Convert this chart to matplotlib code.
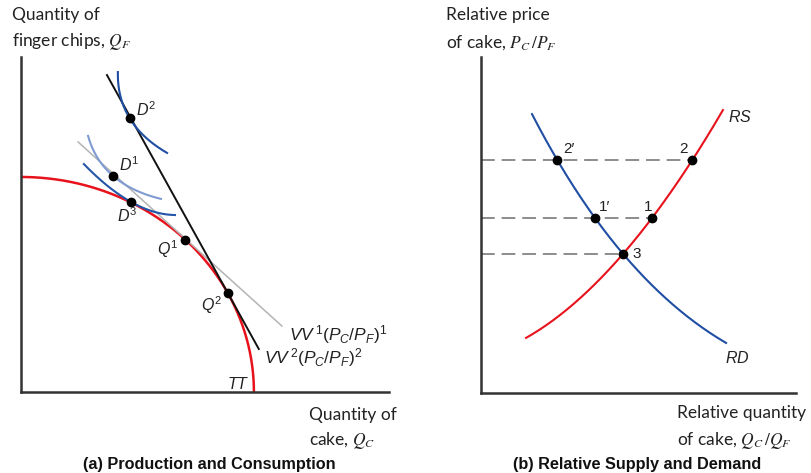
import numpy as np
import matplotlib.pyplot as plt

# fonts: plain labels in Lato, diagram letters in an Arial-like italic
plt.rcParams['mathtext.fontset'] = 'custom'
plt.rcParams['mathtext.it'] = 'Liberation Sans:italic'
plt.rcParams['mathtext.rm'] = 'Liberation Sans'

W, H = 812, 473

# ---- panel (a): transformation curve TT, isovalue lines, indifference curves
tt_radius = 10.0
q_angles = [45.1, 27.5]                        # Q1, Q2 on TT (degrees)
vv1_ends = np.array([[2.45, 11.63], [11.20, 3.07]])
vv2_ends = np.array([[3.69, 14.74], [10.21, 2.00]])
d_points = np.array([[3.95, 10.05], [4.66, 12.74], [4.72, 8.84]])   # D1, D2, D3
ic_starts = np.array([[2.88, 11.91], [4.16, 14.88], [2.70, 10.60]])
ic_ends = np.array([[6.01, 8.98], [6.27, 11.12], [6.61, 8.23]])
ic_colors = ['#7f9bd2', '#1f4ea3', '#2456a8']

# ---- panel (b): relative supply and demand
price_levels = [6.93, 5.21, 4.14]              # points 2, 1, 3
equilibrium = np.array([4.51, 4.14])
rd_ends = np.array([[1.62, 8.30], [7.78, 1.49]])
rs_ends = np.array([[1.43, 1.64], [7.68, 8.42]])

RED = '#e8121c'
BLUE = '#1f4ea3'


def bezier(p0, mid, p1, n=200):
    # quadratic bezier that passes through mid at t = 0.5
    c = 2 * mid - (p0 + p1) / 2
    t = np.linspace(0, 1, n)[:, None]
    return (1 - t) ** 2 * p0 + 2 * t * (1 - t) * c + t ** 2 * p1


def px(x, y):
    return x / W, 1 - y / H


def setup(ax):
    for s in ['top', 'right']:
        ax.spines[s].set_visible(False)
    for s in ['left', 'bottom']:
        ax.spines[s].set_linewidth(1.8)
        ax.spines[s].set_color('#333333')
    ax.set_xticks([])
    ax.set_yticks([])
    ax.patch.set_alpha(0)


fig = plt.figure(figsize=(W / 100, H / 100), dpi=100)

# panel (a)
axa = fig.add_axes([21 / W, 1 - 392 / H, (389 - 21) / W, (392 - 57) / H])
setup(axa)
axa.set_xlim(0, 15.8)
axa.set_ylim(0, 15.58)

theta = np.linspace(0, np.pi / 2, 200)
axa.plot(tt_radius * np.cos(theta), tt_radius * np.sin(theta), color=RED, lw=1.8,
         solid_capstyle='butt')
axa.plot(vv1_ends[:, 0], vv1_ends[:, 1], color='#b4b4b4', lw=1.1)
axa.plot(vv2_ends[:, 0], vv2_ends[:, 1], color='#111111', lw=1.4)

for p0, mid, p1, col in zip(ic_starts, d_points, ic_ends, ic_colors):
    curve = bezier(p0, mid, p1)
    axa.plot(curve[:, 0], curve[:, 1], color=col, lw=1.5)

q_pts = np.array([[tt_radius * np.cos(np.radians(a)), tt_radius * np.sin(np.radians(a))]
                  for a in q_angles])
axa.plot(q_pts[:, 0], q_pts[:, 1], 'o', color='black', ms=6)
axa.plot(d_points[:, 0], d_points[:, 1], 'o', color='black', ms=6)

lab = dict(fontsize=11.5, color='#222222', va='center', textcoords='offset points')
axa.annotate(r'$D^1$', d_points[0], xytext=(4, 8), **lab)
axa.annotate(r'$D^2$', d_points[1], xytext=(5, 6), **lab)
axa.annotate(r'$D^3$', d_points[2], xytext=(-10, -10), **lab)
axa.annotate(r'$Q^1$', q_pts[0], xytext=(-5, -7), ha='right', **lab)
axa.annotate(r'$Q^2$', q_pts[1], xytext=(-4, -9), ha='right', **lab)
axa.annotate(r'$TT$', (tt_radius, 0), xytext=(-11, 6), ha='center', **lab)
axa.annotate(r'$VV^{\,1}(P_C/P_F)^1$', vv1_ends[1], xytext=(5, -6), fontsize=12.5,
             textcoords='offset points', va='center', color='#222222')
axa.annotate(r'$VV^{\,2}(P_C/P_F)^2$', vv2_ends[1], xytext=(4, -6), fontsize=12.5,
             textcoords='offset points', va='center', color='#222222')

# panel (b)
axb = fig.add_axes([481 / W, 1 - 393 / H, (796 - 481) / W, (393 - 57) / H])
setup(axb)
axb.set_xlim(0, 10)
axb.set_ylim(0, 10)

rd = bezier(rd_ends[0], equilibrium, rd_ends[1])
rs = bezier(rs_ends[0], equilibrium, rs_ends[1])
axb.plot(rs[:, 0], rs[:, 1], color=RED, lw=1.5)
axb.plot(rd[:, 0], rd[:, 1], color=BLUE, lw=1.5)

rd_x = [np.interp(p, rd[::-1, 1], rd[::-1, 0]) for p in price_levels]
rs_x = [np.interp(p, rs[:, 1], rs[:, 0]) for p in price_levels]

for p, xs in zip(price_levels, rs_x):
    axb.plot([0, xs], [p, p], color='#6e6e6e', lw=1.1, dashes=(9, 4.5))

axb.plot(rd_x[:2], price_levels[:2], 'o', color='black', ms=6)
axb.plot(rs_x, price_levels, 'o', color='black', ms=6)

num = dict(fontsize=11, family='Liberation Sans', color='#222222', va='center',
           ha='center', textcoords='offset points')
axb.annotate('2′', (rd_x[0], price_levels[0]), xytext=(8, 8), **num)
axb.annotate('1′', (rd_x[1], price_levels[1]), xytext=(7, 8), **num)
axb.annotate('2', (rs_x[0], price_levels[0]), xytext=(-6, 8), **num)
axb.annotate('1', (rs_x[1], price_levels[1]), xytext=(-3, 8), **num)
axb.annotate('3', (rs_x[2], price_levels[2]), xytext=(10, 0), **num)
axb.annotate(r'$RS$', rs_ends[1], xytext=(12, -5), ha='center', **lab)
axb.annotate(r'$RD$', rd_ends[1], xytext=(8, -11), ha='center', **lab)

# axis titles
ax_lab = dict(fontsize=12.5, family='Lato', color='#222222', va='center',
              math_fontfamily='stix')
fig.text(*px(12, 15), 'Quantity of', **ax_lab)
fig.text(*px(12, 41), r'finger chips, $Q_F$', **ax_lab)
fig.text(*px(309, 415), 'Quantity of', **ax_lab)
fig.text(*px(309, 440), r'cake, $Q_C$', **ax_lab)
fig.text(*px(446, 15), 'Relative price', **ax_lab)
fig.text(*px(446, 43), r'of cake, $P_C\,/P_F$', **ax_lab)
fig.text(*px(677, 413), 'Relative quantity', **ax_lab)
fig.text(*px(677, 440), r'of cake, $Q_C\,/Q_F$', **ax_lab)

ttl = dict(fontsize=11.7, family='Liberation Sans', weight='bold', color='#111111',
           ha='center', va='center')
fig.text(*px(209, 464), '(a) Production and Consumption', **ttl)
fig.text(*px(637, 464), '(b) Relative Supply and Demand', **ttl)

fig.savefig('out.png', dpi=100)
